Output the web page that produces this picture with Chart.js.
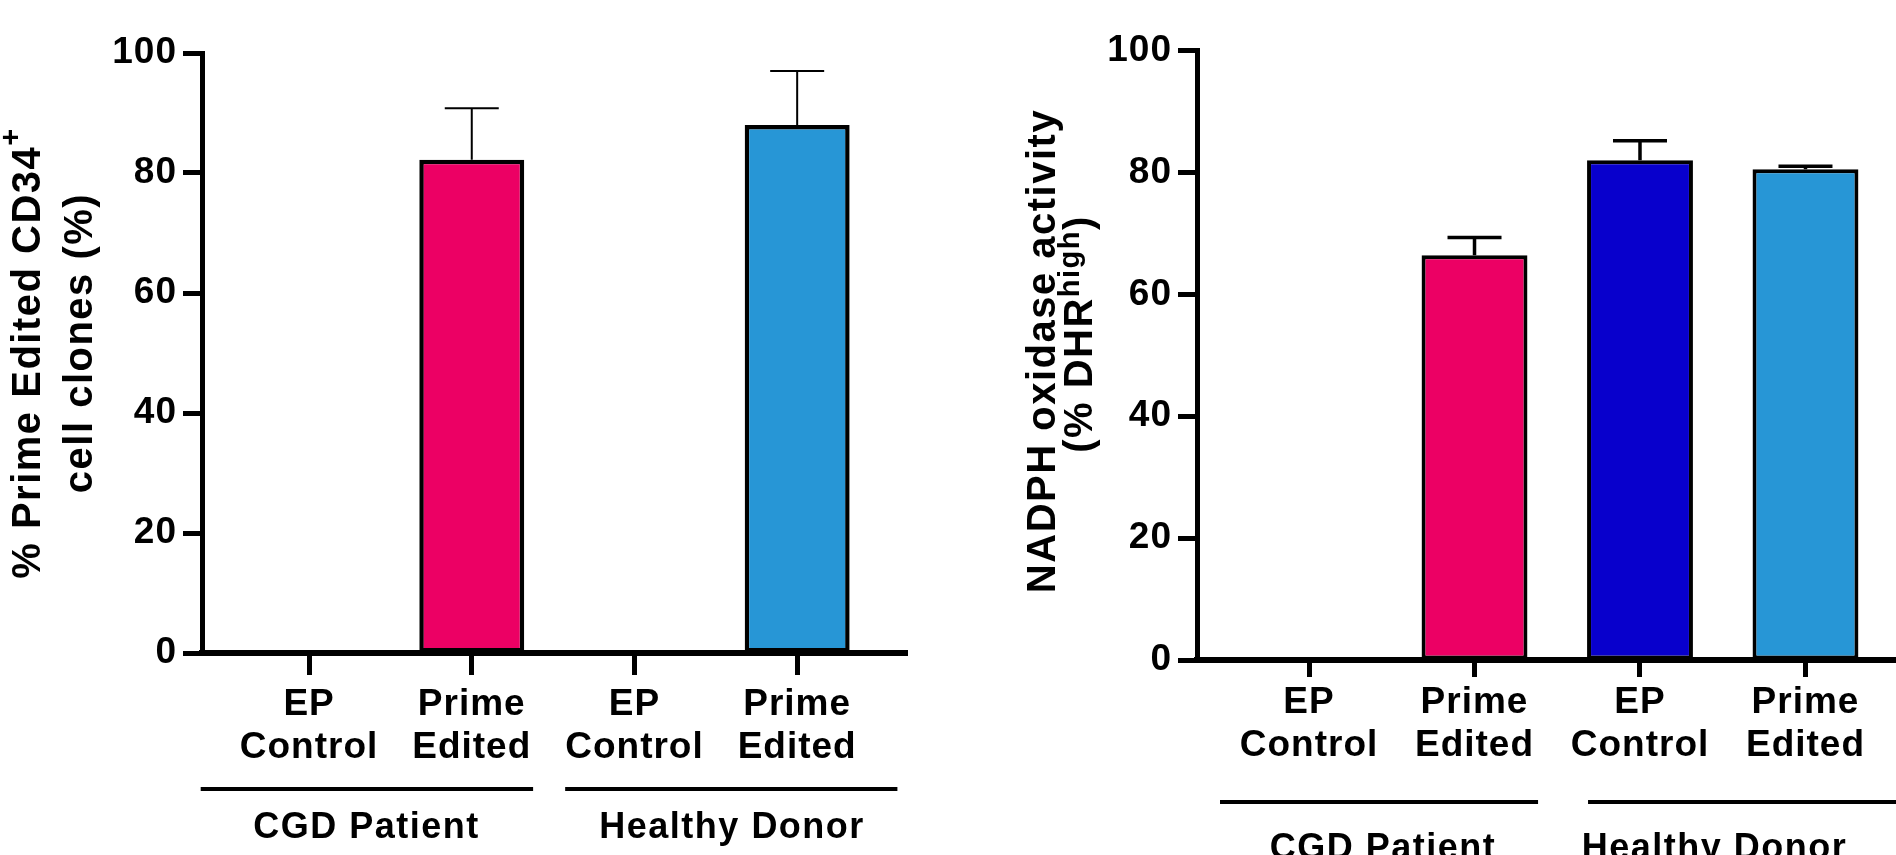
<!DOCTYPE html>
<html>
<head>
<meta charset="utf-8">
<script src="https://cdn.jsdelivr.net/npm/chart.js@4.4.1/dist/chart.umd.min.js"></script>
<style>
  html, body { margin: 0; padding: 0; background: #fff; overflow: hidden; }
  .panel { position: absolute; top: 0; width: 948px; height: 855px; }
</style>
</head>
<body>
<div class="panel" style="left:0"><canvas id="clones" width="948" height="855"></canvas></div>
<div class="panel" style="left:948px"><canvas id="dhr" width="948" height="855"></canvas></div>
<script>
// categories (same four conditions in both panels)
const tickLabels = [['EP', 'Control'], ['Prime', 'Edited'], ['EP', 'Control'], ['Prime', 'Edited']];
const groupNames = ['CGD Patient', 'Healthy Donor'];

// left panel: % prime edited CD34+ clones, mean and upper error
const clonesMean = [0, 82.2, 0, 88.0];
const clonesErr  = [0, 8.6, 0, 9.0];

// right panel: NADPH oxidase activity (% DHR high)
const dhrMean = [0, 66.4, 82.0, 80.5];
const dhrErr  = [0, 2.9, 3.2, 0.5];

const PINK = '#EC0064', NAVY = '#0800CC', SKY = '#2796D6';
const barColors = ['#ffffff', PINK, NAVY, SKY];

const FAMILY = '"Liberation Sans", Arial, Helvetica, sans-serif';
const TITLE_FONT = 'bold 40px ' + FAMILY;
const SUP_FONT = 'bold 29px ' + FAMILY;
const GROUP_FONT = 'bold 36px ' + FAMILY;

// rotated y title, segments may be superscript
function drawRotated(ctx, segs, bx, cy){
  ctx.save();
  ctx.translate(bx, cy);
  ctx.rotate(-Math.PI / 2);
  ctx.fillStyle = '#000';
  ctx.textBaseline = 'alphabetic';
  ctx.textAlign = 'left';
  ctx.letterSpacing = '1.5px';
  const widths = segs.map(s => { ctx.font = s.sup ? SUP_FONT : TITLE_FONT; return ctx.measureText(s.t).width; });
  let xx = -widths.reduce((a, b) => a + b, 0) / 2;
  segs.forEach((s, i) => {
    ctx.font = s.sup ? SUP_FONT : TITLE_FONT;
    ctx.fillText(s.t, xx, s.sup ? -s.raise : 0);
    xx += widths[i];
  });
  ctx.restore();
}

const annotate = {
  id: 'annotate',
  beforeDraw(chart){
    // the reference type is a little more spaced out than Liberation Sans
    chart.ctx.letterSpacing = '1px';
  },
  afterDatasetsDraw(chart, args, o){
    const {ctx, scales: {x, y}} = chart;
    ctx.save();
    ctx.strokeStyle = '#000';
    ctx.lineWidth = o.errWidth;
    o.mean.forEach((m, i) => {
      if(!m) return;
      const px = x.getPixelForValue(i);
      const base = y.getPixelForValue(m);
      const top = y.getPixelForValue(m + o.err[i]);
      ctx.beginPath();
      ctx.moveTo(px, base); ctx.lineTo(px, top);
      ctx.moveTo(px - o.capHalf, top); ctx.lineTo(px + o.capHalf, top);
      ctx.stroke();
    });
    ctx.restore();
  },
  afterDraw(chart, args, o){
    const {ctx, scales: {x}} = chart;
    ctx.save();
    ctx.strokeStyle = '#000';
    ctx.fillStyle = '#000';
    ctx.lineWidth = 4;
    ctx.letterSpacing = '1.5px';
    o.groups.forEach((g, i) => {
      ctx.beginPath();
      ctx.moveTo(x.getPixelForValue(g.from), o.lineY);
      ctx.lineTo(x.getPixelForValue(g.to), o.lineY);
      ctx.stroke();
      ctx.font = GROUP_FONT;
      ctx.textAlign = 'center';
      ctx.textBaseline = 'alphabetic';
      ctx.fillText(groupNames[i], x.getPixelForValue(g.mid), o.textY);
    });
    ctx.restore();
    o.titles.forEach(t => drawRotated(ctx, t.segs, t.x, t.y));
  }
};

function makeChart(id, mean, err, o){
  return new Chart(document.getElementById(id), {
    type: 'bar',
    data: {
      datasets: [{
        data: mean.map((v, i) => ({x: i, y: v})),
        backgroundColor: barColors,
        borderColor: '#000',
        borderWidth: o.barBorder,
        borderSkipped: false,
        barPercentage: o.barPct,
        categoryPercentage: 1
      }]
    },
    options: {
      responsive: false,
      animation: false,
      layout: { padding: o.padding },
      plugins: {
        legend: { display: false },
        tooltip: { enabled: false },
        annotate: { mean, err, errWidth: o.errWidth, capHalf: 27, groups: o.groups, lineY: o.lineY, textY: o.textY, titles: o.titles }
      },
      scales: {
        x: {
          type: 'linear',
          offset: false,
          min: o.xMin, max: o.xMax,
          afterBuildTicks: s => { s.ticks = tickLabels.map((_, i) => ({value: i})); },
          afterFit: s => { s.height = o.xHeight; },
          grid: { offset: false, drawOnChartArea: false, drawTicks: true, tickLength: o.xTick, tickWidth: 5, color: '#000' },
          border: { display: true, width: 6, color: '#000' },
          ticks: {
            autoSkip: false, maxRotation: 0, padding: o.xPad, color: '#000',
            font: { family: FAMILY, size: 37, weight: 'bold', lineHeight: 1.16 },
            callback: v => tickLabels[v]
          }
        },
        y: {
          min: 0, max: 100,
          afterFit: s => { s.width = o.yWidth; },
          grid: { drawOnChartArea: false, drawTicks: true, tickLength: 19, tickWidth: 5, color: '#000' },
          border: { display: true, width: 5, color: '#000' },
          ticks: {
            stepSize: 20, padding: 6, color: '#000',
            font: { family: FAMILY, size: 37, weight: 'bold' }
          }
        }
      }
    },
    plugins: [annotate]
  });
}

makeChart('clones', clonesMean, clonesErr, {
  padding: { left: 0, right: 41, top: 53, bottom: 0 },
  yWidth: 202, xHeight: 202, xMin: -0.658, xMax: 3.675,
  xTick: 22, xPad: 8, barPct: 0.645, barBorder: 4.5, errWidth: 2,
  groups: [{from: -0.666, to: 1.377, mid: 0.353}, {from: 1.574, to: 3.616, mid: 2.6}],
  lineY: 789, textY: 838,
  titles: [
    { x: 40, y: 353, segs: [{t: '% Prime Edited CD34'}, {t: '+', sup: true, raise: 20}] },
    { x: 92, y: 343, segs: [{t: 'cell clones (%)'}] }
  ]
});

makeChart('dhr', dhrMean, dhrErr, {
  padding: { left: 0, right: 0, top: 50.5, bottom: 0 },
  yWidth: 249, xHeight: 195, xMin: -0.677, xMax: 3.547,
  xTick: 17, xPad: 4, barPct: 0.64, barBorder: 4, errWidth: 3.5,
  groups: [{from: -0.538, to: 1.384, mid: 0.447}, {from: 1.686, to: 3.8, mid: 2.45}],
  lineY: 802, textY: 859,
  titles: [
    { x: 107, y: 351, segs: [{t: 'NADPH oxidase activity'}] },
    { x: 143.7, y: 334, segs: [{t: '(% DHR'}, {t: 'high', sup: true, raise: 13}, {t: ')'}] }
  ]
});
</script>
</body>
</html>
